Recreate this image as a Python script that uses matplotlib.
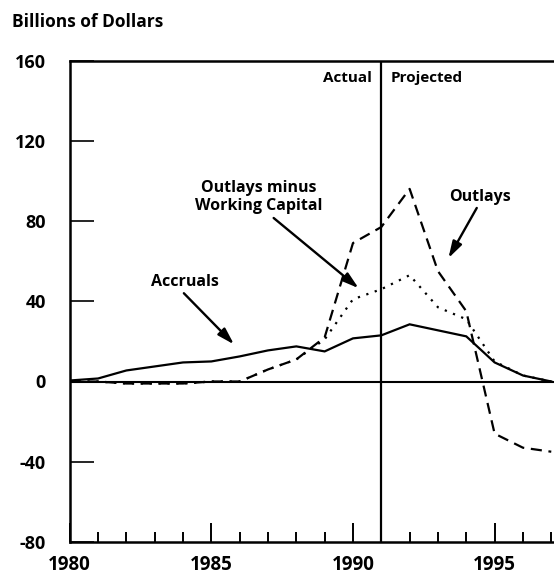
import matplotlib
matplotlib.use('Agg')
import matplotlib.pyplot as plt
from matplotlib.ticker import MultipleLocator

# values (billions of dollars)
years = list(range(1980, 1998))
accruals = [0.5, 1.5, 5.5, 7.5, 9.5, 10, 12.5, 15.5, 17.5, 15, 21.5, 23, 28.5, 25.5, 22.5, 9.5, 3, 0]
outlays = [0, 0, -1, -1, -1, 0, 0, 6, 11, 22, 69, 77, 96, 55, 35, -26, -33, -35]
outlaysMinusWC = [0, 0, -1, -1, -1, 0, 0, 6, 11, 21, 41, 46, 53, 37, 31, 10, 3, 0]

yticks = [-80, -40, 0, 40, 80, 120, 160]
xticks = [1980, 1985, 1990, 1995]

plt.rcParams['font.family'] = ['Open Sans', 'DejaVu Sans']
plt.rcParams['font.weight'] = 'bold'
plt.rcParams['axes.unicode_minus'] = False  # plain hyphen like the original

fig = plt.figure(figsize=(5.54, 5.79), dpi=100)
ax = fig.add_axes([69.7/554, 37/579, 484.4/554, 481.5/579])

ax.plot(years, accruals, color='black', lw=1.6, solid_joinstyle='miter')
ax.plot(years, outlays, color='black', lw=1.6, dashes=(5, 3))
ax.plot(years, outlaysMinusWC, color='black', lw=1.6, dashes=(1, 3))

ax.axhline(0, color='black', lw=1.5)
ax.axvline(1991, color='black', lw=1.6)

ax.set_xlim(1980, 1997.1)
ax.set_ylim(-80, 160)

ax.set_yticks(yticks)
ax.set_xticks(xticks)
ax.xaxis.set_minor_locator(MultipleLocator(1))
ax.tick_params(axis='y', direction='in', length=17, width=1.2, pad=17, labelsize=13)
ax.tick_params(axis='x', which='major', direction='in', length=14, width=1.4, pad=9, labelsize=13.5)
ax.tick_params(axis='x', which='minor', direction='in', length=7.5, width=1.4)

for s in ['left', 'top', 'bottom']:
    ax.spines[s].set_linewidth(1.8)
ax.spines['right'].set_visible(False)

# labels
ax.annotate('Actual', xy=(1991, 151.5), xytext=(-7, 0), textcoords='offset points',
            ha='right', va='center', fontsize=11, fontweight='bold')
ax.annotate('Projected', xy=(1991, 151.5), xytext=(7, 0), textcoords='offset points',
            ha='left', va='center', fontsize=11, fontweight='bold')

arrow = dict(arrowstyle='-|>,head_length=1.0,head_width=0.3', color='black', lw=1.7,
             shrinkA=0, shrinkB=0)

ax.text(1986.67, 92, 'Outlays minus\nWorking Capital', ha='center', va='center',
        fontsize=11.5, fontweight='bold', linespacing=1.15)
ax.annotate('', xy=(1990.2, 46.5), xytext=(1987.2, 81.5), arrowprops=arrow)

ax.text(1984.07, 49.5, 'Accruals', ha='center', va='center', fontsize=11.5, fontweight='bold')
ax.annotate('', xy=(1985.8, 18.5), xytext=(1984.03, 44), arrowprops=arrow)

ax.text(1994.47, 92, 'Outlays', ha='center', va='center', fontsize=11.5, fontweight='bold')
ax.annotate('', xy=(1993.37, 61.5), xytext=(1994.37, 86.5), arrowprops=arrow)

fig.text(12/554, 1 - 22/579, 'Billions of Dollars', ha='left', va='center',
         fontsize=12.5, fontweight='bold')

fig.savefig('out.png', dpi=100)
